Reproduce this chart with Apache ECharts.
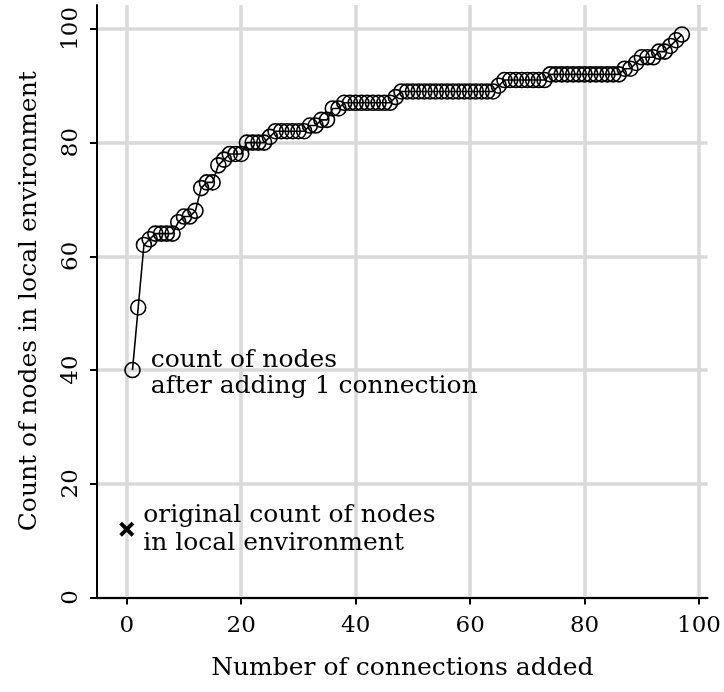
<!DOCTYPE html>
<html><head><meta charset="utf-8">
<script src="https://cdn.jsdelivr.net/npm/echarts@6/dist/echarts.min.js"></script>
<style>html,body{margin:0;padding:0;background:#fff}#c{width:724px;height:692px}</style>
</head><body><div id="c"></div>
<script>
// connections added (x) and count of nodes in local environment (y)
const connections = [];
for (let i = 1; i <= 97; i++) connections.push(i);
const nodeCounts = [
  40,51,62,63,64,64,64,64,66,67,
  67,68,72,73,73,76,77,78,78,78,
  80,80,80,80,81,82,82,82,82,82,
  82,83,83,84,84,86,86,87,87,87,
  87,87,87,87,87,87,88,89,89,89,
  89,89,89,89,89,89,89,89,89,89,
  89,89,89,89,90,91,91,91,91,91,
  91,91,91,92,92,92,92,92,92,92,
  92,92,92,92,92,92,93,93,94,95,
  95,95,96,96,97,98,99
];
const originalPoint = [0, 12];
const xTicks = [0, 20, 40, 60, 80, 100];
const yTicks = [0, 20, 40, 60, 80, 100];
const annotAdded = 'count of nodes\nafter adding 1 connection';
const annotOriginal = 'original count of nodes\nin local environment';
const xTitle = 'Number of connections added';
const yTitle = 'Count of nodes in local environment';

const FONT = 'DejaVu Serif';
const lineData = connections.map((c, i) => {
  const item = { value: [c, nodeCounts[i]] };
  if (i === 0) {
    item.label = {
      show: true, position: 'right', distance: 10, offset: [0, 3],
      formatter: annotAdded, fontFamily: FONT, fontSize: 25, lineHeight: 26, color: '#000', align: 'left'
    };
  }
  return item;
});

const chart = echarts.init(document.getElementById('c'), null, { renderer: 'canvas' });
chart.setOption({
  animation: false,
  backgroundColor: '#fff',
  grid: { left: 97, right: 16, top: 5, bottom: 94.5, containLabel: false },
  xAxis: {
    type: 'value', min: -5.2, max: 101.5,
    name: xTitle, nameLocation: 'middle', nameGap: 58,
    nameTextStyle: { fontFamily: FONT, fontSize: 25, color: '#000' },
    axisLine: { show: true, onZero: false, lineStyle: { color: '#000', width: 2 } },
    axisTick: { show: true, length: 7, customValues: xTicks, lineStyle: { color: '#000', width: 2 } },
    axisLabel: { customValues: xTicks, fontFamily: FONT, fontSize: 23, color: '#000', margin: 17 },
    splitLine: { show: true, lineStyle: { color: '#d9d9d9', width: 3.5 } }
  },
  yAxis: {
    type: 'value', min: 0, max: 104.2,
    name: yTitle, nameLocation: 'middle', nameGap: 55,
    nameTextStyle: { fontFamily: FONT, fontSize: 25, color: '#000' },
    axisLine: { show: true, onZero: false, lineStyle: { color: '#000', width: 2 } },
    axisTick: { show: true, length: 7, customValues: yTicks, lineStyle: { color: '#000', width: 2 } },
    axisLabel: { customValues: yTicks, rotate: 90, fontFamily: FONT, fontSize: 23, color: '#000', margin: 14 },
    splitLine: { show: true, lineStyle: { color: '#d9d9d9', width: 3.5 } }
  },
  series: [
    {
      type: 'line', data: lineData,
      symbol: 'circle', symbolSize: 15,
      itemStyle: { color: 'rgba(0,0,0,0)', borderColor: '#000', borderWidth: 1.6 },
      lineStyle: { color: '#000', width: 1.6 },
      z: 3
    },
    {
      type: 'scatter', data: [originalPoint],
      symbol: 'path://M0,1.8 L1.8,0 L5,3.2 L8.2,0 L10,1.8 L6.8,5 L10,8.2 L8.2,10 L5,6.8 L1.8,10 L0,8.2 L3.2,5 Z',
      symbolSize: 15,
      itemStyle: { color: '#000', opacity: 1 },
      label: {
        show: true, position: 'right', distance: 9,
        formatter: annotOriginal, fontFamily: FONT, fontSize: 25, lineHeight: 28, color: '#000', align: 'left'
      },
      z: 3
    }
  ]
});
</script>
</body></html>
